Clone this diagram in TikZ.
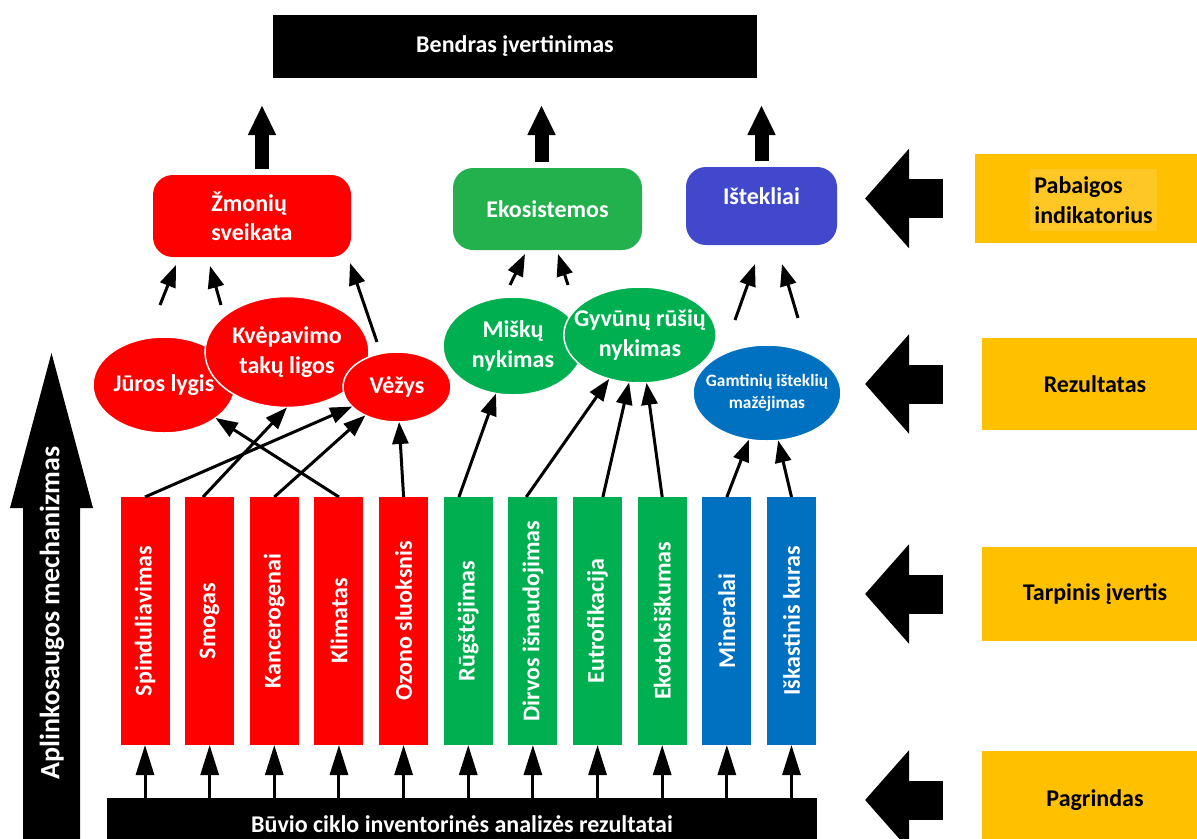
\documentclass[tikz,border=0pt]{standalone}
\usepackage{fontspec}
\setmainfont{Carlito}
\usetikzlibrary{shapes.geometric,arrows.meta}

\newlength{\pxu}
\setlength{\pxu}{0.75pt}

\definecolor{hred}{HTML}{FF0000}
\definecolor{ekogreen}{HTML}{22B14C}
\definecolor{ecogreen}{HTML}{00B050}
\definecolor{istblue}{HTML}{4148CC}
\definecolor{resblue}{HTML}{0070C0}
\definecolor{lvlyellow}{HTML}{FFC000}
\definecolor{lvllight}{HTML}{FFC726}

% sizes are given in pixels of the 1197x839 sheet (1px = 0.75pt)
\tikzset{
  every node/.style={font=\bfseries\fontsize{18}{22}\selectfont, outer sep=0pt},
  sumbox/.style={rectangle, fill=black, text=white},
  areabox/.style={rectangle, rounded corners=15pt, text=white},
  effect/.style={ellipse, draw=white, line width=1.5\pxu, text=white, align=center, inner xsep=-9pt, inner ysep=0pt},
  barbox/.style={rectangle, rotate=90, minimum width=248\pxu, minimum height=49\pxu, text=white, inner sep=0pt},
  lvlbox/.style={rectangle, fill=lvlyellow, text=black},
  link/.style={line width=2.25pt, -{Triangle[length=16.5pt, width=12pt]}},
  pushup/.style={line width=2.25pt, -{Triangle[length=22.5pt, width=13.5pt]}},
  sumarrow/.style={line width=10.5pt, -{Triangle[length=22.5pt, width=19.5pt]}, shorten <=4.5pt, shorten >=20.25pt},
  lvlarrow/.style={line width=29.25pt, -{Triangle[length=33pt, width=72.75pt]}}
}

\begin{document}
\begin{tikzpicture}[x=0.75pt, y=-0.75pt]
\useasboundingbox (0,0) rectangle (1197,839);
\clip (0,0) rectangle (1197,839);

% overall result and the three areas
\node[sumbox, minimum width=484\pxu, minimum height=63\pxu] (bendras) at (515,46.5) {Bendras įvertinimas};
\node[areabox, fill=hred, minimum width=198\pxu, minimum height=82\pxu, align=left] (zmon) at (252,216) {Žmonių\\sveikata};
\node[areabox, fill=ekogreen, minimum width=189\pxu, minimum height=82\pxu] (eko) at (547.5,209) {Ekosistemos};
\node[areabox, fill=istblue, minimum width=151\pxu, minimum height=78\pxu, text depth=15pt] (ist) at (761.5,206) {Ištekliai};

\coordinate (zup) at ([xshift=7.5pt]zmon.north);
\coordinate (eup) at ([xshift=-4.5pt]eko.north);
\coordinate (iup) at (ist.north);
\draw[sumarrow] (zup) -- (zup |- bendras.south);
\draw[sumarrow] (eup) -- (eup |- bendras.south);
\draw[sumarrow] (iup) -- (iup |- bendras.south);

% damages
\node[effect, fill=hred, minimum width=142\pxu, minimum height=96\pxu] (jur) at (164,385) {Jūros lygis};
\node[effect, fill=hred, minimum width=164\pxu, minimum height=111\pxu] (kve) at (287,352) {Kvėpavimo\\takų ligos};
\node[effect, fill=hred, minimum width=108\pxu, minimum height=70\pxu] (vez) at (397,387) {Vėžys};
\node[effect, fill=ecogreen, minimum width=140\pxu, minimum height=98\pxu] (mis) at (513,346) {Miškų\\nykimas};
\node[effect, fill=ecogreen, minimum width=150\pxu, minimum height=96\pxu] (gyv) at (640,335) {Gyvūnų rūšių\\nykimas};
\node[effect, fill=resblue, minimum width=148\pxu, minimum height=96\pxu, font=\bfseries\fontsize{13}{17}\selectfont] (gam) at (767,393) {Gamtinių išteklių\\mažėjimas};

\coordinate (a1) at (160,305);  \coordinate (a1e) at (176,265);
\coordinate (a2) at (221,305);  \coordinate (a2e) at (210,266);
\coordinate (a3) at (377,342);  \coordinate (a3e) at (350,263);
\coordinate (a4) at (510,285);  \coordinate (a4e) at (525,254);
\coordinate (a5) at (568,285);  \coordinate (a5e) at (558,254);
\coordinate (a6) at (735,320);  \coordinate (a6e) at (755,264);
\coordinate (a7) at (798,318);  \coordinate (a7e) at (782,264);
\draw[link] (a1) -- (a1e);
\draw[link] (a2) -- (a2e);
\draw[link] (a3) -- (a3e);
\draw[link] (a4) -- (a4e);
\draw[link] (a5) -- (a5e);
\draw[link] (a6) -- (a6e);
\draw[link] (a7) -- (a7e);

% midpoint categories
\node[barbox, fill=hred] (spin) at (145,621) {Spinduliavimas};
\node[barbox, fill=hred] (smog) at (209.65,621) {Smogas};
\node[barbox, fill=hred] (kanc) at (274.3,621) {Kancerogenai};
\node[barbox, fill=hred] (klim) at (338.95,621) {Klimatas};
\node[barbox, fill=hred] (ozon) at (403.6,621) {Ozono sluoksnis};
\node[barbox, fill=ecogreen] (rug) at (468.25,621) {Rūgštėjimas};
\node[barbox, fill=ecogreen] (dirv) at (532.9,621) {Dirvos išnaudojimas};
\node[barbox, fill=ecogreen] (eutr) at (597.55,621) {Eutrofikacija};
\node[barbox, fill=ecogreen] (ekot) at (662.2,621) {Ekotoksiškumas};
\node[barbox, fill=resblue] (mine) at (726.85,621) {Mineralai};
\node[barbox, fill=resblue] (iska) at (791.5,621) {Iškastinis kuras};

\draw[link] (spin.east) -- (vez);
\draw[link] ([xshift=-5pt]smog.east) -- (kve.south);
\draw[link] (kanc.east) -- (vez);
\draw[link] (klim.east) -- (jur);
\draw[link] (ozon.east) -- (vez);
\draw[link] ([xshift=-7pt]rug.east) -- (mis);
\draw[link] ([xshift=-5pt]dirv.east) -- (gyv);
\draw[link] ([xshift=4pt]eutr.east) -- (gyv);
\draw[link] (ekot.east) -- (gyv);
\draw[link] (mine.east) -- (gam);
\draw[link] (iska.east) -- (gam);

% inventory
\node[sumbox, minimum width=710\pxu, minimum height=52\pxu] (buv) at (462,824) {Būvio ciklo inventorinės analizės rezultatai};
\draw[pushup] (spin.west |- buv.north) -- (spin.west);
\draw[pushup] (smog.west |- buv.north) -- (smog.west);
\draw[pushup] (kanc.west |- buv.north) -- (kanc.west);
\draw[pushup] (klim.west |- buv.north) -- (klim.west);
\draw[pushup] (ozon.west |- buv.north) -- (ozon.west);
\draw[pushup] (rug.west |- buv.north) -- (rug.west);
\draw[pushup] (dirv.west |- buv.north) -- (dirv.west);
\draw[pushup] (eutr.west |- buv.north) -- (eutr.west);
\draw[pushup] (ekot.west |- buv.north) -- (ekot.west);
\draw[pushup] (mine.west |- buv.north) -- (mine.west);
\draw[pushup] (iska.west |- buv.north) -- (iska.west);

% mechanism arrow
\fill (23,850) -- (23,508) -- (10,508) -- (51.5,353) -- (93,508) -- (80,508) -- (80,850) -- cycle;
\node[rotate=90, text=white, font=\bfseries\fontsize{21}{25}\selectfont] (mech) at (52,613) {Aplinkosaugos mechanizmas};

% levels
\node[lvlbox, minimum width=233\pxu, minimum height=89\pxu] (pab) at (1091.5,198.5) {};
\node[fill=lvllight, align=left, minimum width=127\pxu, minimum height=62\pxu] (pabtxt) at (1093.5,200) {Pabaigos\\indikatorius};
\node[lvlbox, minimum width=226\pxu, minimum height=92\pxu] (rez) at (1095,384) {Rezultatas};
\node[lvlbox, minimum width=226\pxu, minimum height=94\pxu] (tarp) at (1095,594) {Tarpinis įvertis};
\node[lvlbox, minimum width=226\pxu, minimum height=98\pxu] (pag) at (1095,800) {Pagrindas};

\draw[lvlarrow] ([xshift=-24pt]pab.west) -- ++(-78,0);
\draw[lvlarrow] ([xshift=-29.25pt]rez.west) -- ++(-78,0);
\draw[lvlarrow] ([xshift=-29.25pt]tarp.west) -- ++(-78,0);
\draw[lvlarrow] ([xshift=-29.25pt]pag.west) -- ++(-78,0);

\end{tikzpicture}
\end{document}
